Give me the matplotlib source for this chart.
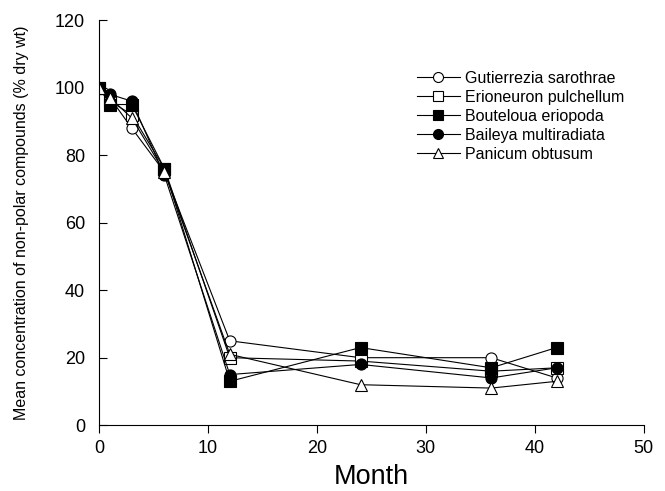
import matplotlib
matplotlib.use("Agg")
import matplotlib.pyplot as plt

plt.rcParams['font.family'] = ['Liberation Sans', 'DejaVu Sans']

months = [0, 1, 3, 6, 12, 24, 36, 42]

gutierrezia = [100, 97, 88, 75, 25, 20, 20, 14]
erioneuron = [100, 96, 92, 76, 20, 19, 16, 17]
bouteloua = [100, 95, 95, 76, 13, 23, 17, 23]
baileya = [100, 98, 96, 74, 15, 18, 14, 17]
panicum = [100, 97, 91, 75, 21, 12, 11, 13]

series = [
    ('Gutierrezia sarothrae', gutierrezia, 'o', 'white'),
    ('Erioneuron pulchellum', erioneuron, 's', 'white'),
    ('Bouteloua eriopoda', bouteloua, 's', 'black'),
    ('Baileya multiradiata', baileya, 'o', 'black'),
    ('Panicum obtusum', panicum, '^', 'white'),
]

fig = plt.figure(figsize=(6.65, 4.91), dpi=100)
ax = fig.add_axes([0.149, 0.134, 0.819, 0.825])

for name, vals, mk, fc in series:
    ax.plot(months, vals, color='black', lw=0.8, marker=mk, markersize=8,
            markerfacecolor=fc, markeredgecolor='black', markeredgewidth=0.8,
            label=name)

ax.set_xlim(0, 50)
ax.set_ylim(0, 120)
ax.set_xticks(range(0, 51, 10))
ax.set_yticks(range(0, 121, 20))
ax.tick_params(axis='x', direction='out', length=6, labelsize=13, pad=5)
ax.tick_params(axis='y', direction='in', length=6, labelsize=13, pad=10)
for side in ('top', 'right'):
    ax.spines[side].set_visible(False)
for side in ('left', 'bottom'):
    ax.spines[side].set_linewidth(0.8)

ax.set_xlabel('Month', fontsize=19.5, labelpad=5)
ax.set_ylabel('Mean concentration of non-polar compounds (% dry wt)',
              fontsize=11.5, labelpad=19)

ax.legend(loc='upper right', bbox_to_anchor=(0.99, 0.91), frameon=False,
          fontsize=11.5, handlelength=2.7, handletextpad=0.3, labelspacing=0.25,
          markerscale=0.9)

fig.savefig('out.png', dpi=100)
